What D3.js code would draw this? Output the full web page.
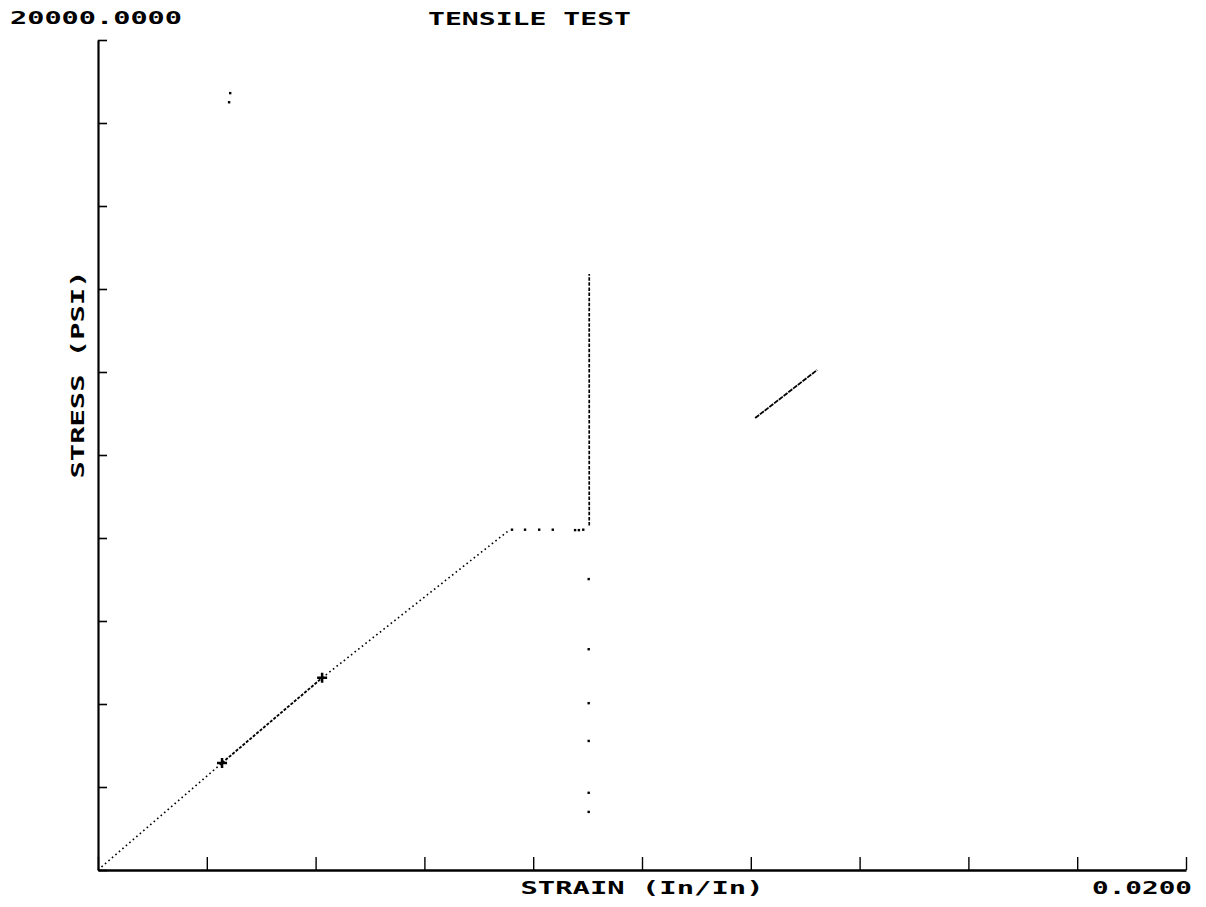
<!DOCTYPE html>
<html>
<head>
<meta charset="utf-8">
<script src="https://cdn.jsdelivr.net/npm/d3@7"></script>
<style>
  html, body { margin: 0; padding: 0; background: #fff; }
  svg { display: block; }
  .lbl { font-family: "DejaVu Sans Mono", "Liberation Mono", monospace; font-weight: bold; font-size: 17px; fill: #000; }
</style>
</head>
<body>
<svg id="chart" width="1206" height="907"></svg>
<script>
// Tensile test: stress (psi) versus strain (in/in)

// Axis ranges and tick steps
const strainDomain = [0, 0.02];
const stressDomain = [0, 20000];
const strainTicks = d3.range(0, 0.02001, 0.002);
const stressTicks = d3.range(0, 20001, 2000);
const stressMaxLabel = "20000.0000";
const strainMaxLabel = "0.0200";

// Elastic loading curve
const loadStrain = [0, 0.00228, 0.00412, 0.00757];
const loadStress = [0, 2580, 4630, 8200];

// Yield plateau readings
const plateauStrain = [0.00761, 0.00785, 0.00811, 0.00836, 0.00877, 0.00884, 0.00892];
const plateauStress = [8200, 8200, 8200, 8200, 8190, 8190, 8200];

// Vertical jump after the plateau
const jumpStrain = [0.00903, 0.00903];
const jumpStress = [8300, 14360];

// Isolated readings below the plateau
const dropStrain = [0.00902, 0.00902, 0.00902, 0.00902, 0.00902, 0.00902];
const dropStress = [7010, 5320, 4020, 3110, 1860, 1400];

// Short unloading segment
const unloadStrain = [0.01208, 0.01322];
const unloadStress = [10890, 12050];

// Cursor marks on the loading curve
const markStrain = [0.00228, 0.00412];
const markStress = [2580, 4630];

// Stray readings
const strayStrain = [0.00241, 0.00243];
const strayStress = [18500, 18720];

const svg = d3.select("#chart");

const x = d3.scaleLinear().domain(strainDomain).range([98, 1186]);
const y = d3.scaleLinear().domain(stressDomain).range([870, 40]);

const pts = (xs, ys) => xs.map((v, i) => [x(v), y(ys[i])]);
const line = d3.line();

// Axes
const yAxis = svg.append("g")
  .attr("transform", `translate(${x(0)},0)`)
  .call(d3.axisLeft(y).tickValues(stressTicks).tickSizeInner(-9).tickSizeOuter(0).tickFormat(""));
const xAxis = svg.append("g")
  .attr("transform", `translate(0,${y(0)})`)
  .call(d3.axisBottom(x).tickValues(strainTicks).tickSizeInner(-13).tickSizeOuter(0).tickFormat(""));

yAxis.select(".domain").attr("stroke", "#000").attr("stroke-width", 2.2);
yAxis.selectAll(".tick line").attr("stroke", "#000").attr("stroke-width", 1.6);
xAxis.select(".domain").attr("stroke", "#000").attr("stroke-width", 2.6);
xAxis.selectAll(".tick line").attr("stroke", "#000").attr("stroke-width", 1.4);

// Loading curve, segment by segment (denser trace between cursor marks)
const loadPts = pts(loadStrain, loadStress);
const segDash = ["1.6 3", "3 1.5", "1.6 3"];
for (let i = 0; i < loadPts.length - 1; i++) {
  svg.append("path")
    .attr("d", line([loadPts[i], loadPts[i + 1]]))
    .attr("fill", "none")
    .attr("stroke", "#000")
    .attr("stroke-width", i === 1 ? 1.9 : 1.6)
    .attr("stroke-dasharray", segDash[i]);
}

// Jump
svg.append("path")
  .attr("d", line(pts(jumpStrain, jumpStress)))
  .attr("fill", "none").attr("stroke", "#000")
  .attr("stroke-width", 1.7).attr("stroke-dasharray", "3.5 1.6");

// Unloading segment
svg.append("path")
  .attr("d", line(pts(unloadStrain, unloadStress)))
  .attr("fill", "none").attr("stroke", "#000")
  .attr("stroke-width", 1.8).attr("stroke-dasharray", "5 1");

// Isolated points: plateau, drop readings and strays
svg.append("g").selectAll("rect")
  .data(pts(plateauStrain, plateauStress)
    .concat(pts(dropStrain, dropStress))
    .concat(pts(strayStrain, strayStress)))
  .join("rect")
  .attr("x", d => d[0] - 1.2).attr("y", d => d[1] - 1.2)
  .attr("width", 2.4).attr("height", 2.4)
  .attr("fill", "#000");

// Cursor marks
svg.append("g").selectAll("path")
  .data(pts(markStrain, markStress))
  .join("path")
  .attr("d", d => `M${d[0] - 5},${d[1]}H${d[0] + 5}M${d[0]},${d[1] - 5}V${d[1] + 5}`)
  .attr("stroke", "#000").attr("stroke-width", 2.5).attr("fill", "none");

// Text
svg.append("text").attr("class", "lbl")
  .attr("x", 10).attr("y", 24)
  .attr("textLength", 172).attr("lengthAdjust", "spacingAndGlyphs")
  .text(stressMaxLabel);

svg.append("text").attr("class", "lbl")
  .attr("x", 428).attr("y", 25)
  .attr("textLength", 203).attr("lengthAdjust", "spacingAndGlyphs")
  .text("TENSILE TEST");

svg.append("text").attr("class", "lbl")
  .attr("x", 642).attr("y", 894).attr("text-anchor", "middle")
  .attr("textLength", 243).attr("lengthAdjust", "spacingAndGlyphs")
  .text("STRAIN (In/In)");

svg.append("text").attr("class", "lbl")
  .attr("x", 1092).attr("y", 894)
  .attr("textLength", 100).attr("lengthAdjust", "spacingAndGlyphs")
  .text(strainMaxLabel);

svg.append("text").attr("class", "lbl")
  .attr("transform", "translate(84,374.5) rotate(-90)")
  .attr("text-anchor", "middle")
  .attr("textLength", 208).attr("lengthAdjust", "spacingAndGlyphs")
  .text("STRESS (PSI)");
</script>
</body>
</html>
